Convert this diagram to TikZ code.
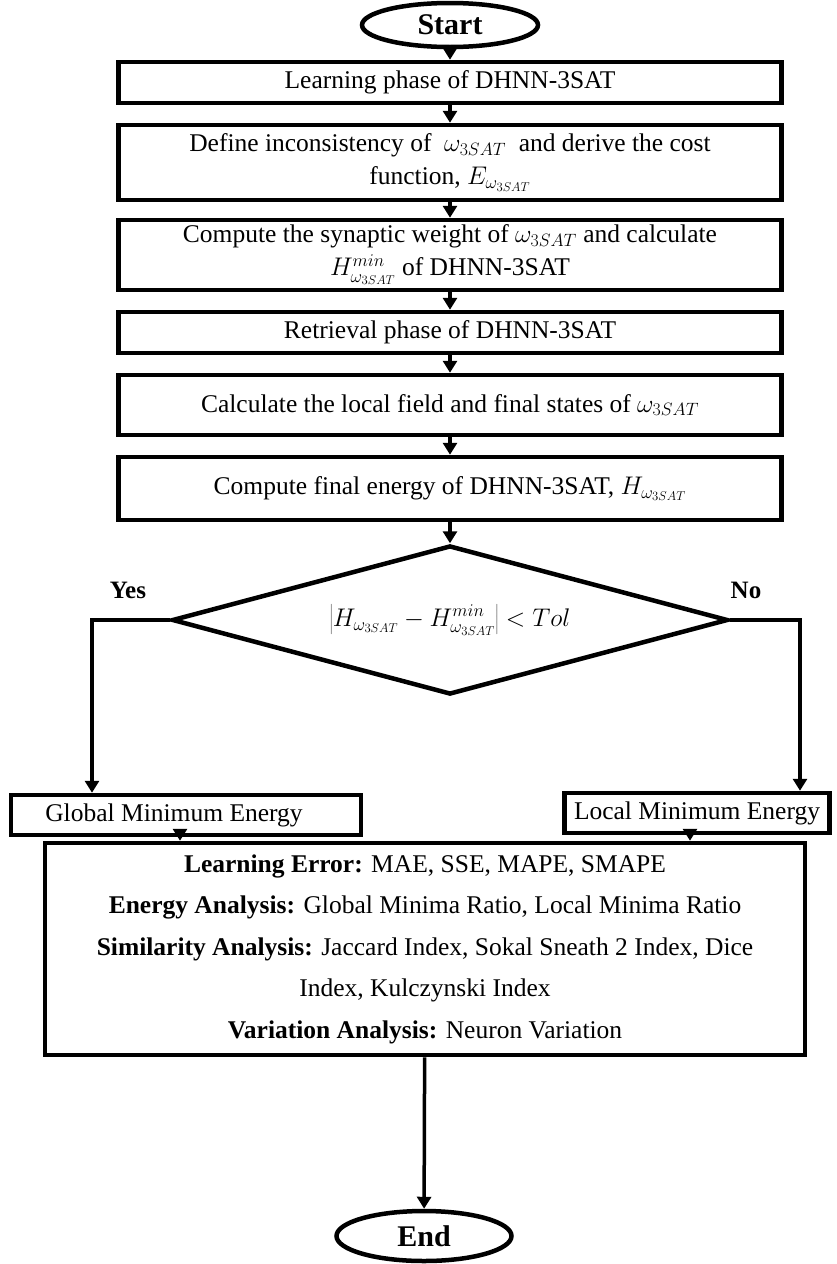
\RequirePackage{fix-cm}
\documentclass[tikz,border=0pt]{standalone}
\usepackage{fontspec}
\setmainfont{Liberation Serif}
\usetikzlibrary{shapes.geometric,arrows.meta,calc}
\begin{document}
\begin{tikzpicture}[x=1pt,y=-1pt,
  box/.style={draw,line width=4.5pt,rectangle,inner sep=2pt,align=center,
    font=\fontsize{25.5}{33}\selectfont},
  term/.style={draw,line width=4.5pt,ellipse,inner sep=0pt,
    font=\fontsize{30}{33}\selectfont\bfseries},
  arr/.style={line width=3.5pt,-{Triangle[length=12pt,width=14pt]}},
  lab/.style={font=\fontsize{25}{30}\selectfont\bfseries}]
\useasboundingbox[fill=white] (0,0) rectangle (837,1264);

\node[term,minimum width=176pt,minimum height=44pt] (start) at (450,25) {Start};
\node[box,minimum width=663pt,minimum height=41pt] (b1) at (450,82.5) {Learning phase of DHNN-3SAT};
\node[box,minimum width=663pt,minimum height=75pt] (b2) at (450,162.5)
  {Define inconsistency of \ $\omega_{3SAT}$ \ and derive the cost\\ function, $E_{\omega_{3SAT}}$};
\node[box,minimum width=663pt,minimum height=70pt] (b3) at (450,255)
  {Compute the synaptic weight of $\omega_{3SAT}$ and calculate\\ $H^{min}_{\omega_{3SAT}}$ of DHNN-3SAT};
\node[box,minimum width=663pt,minimum height=41pt] (b4) at (450,332.5) {Retrieval phase of DHNN-3SAT};
\node[box,minimum width=663pt,minimum height=60pt] (b5) at (450,405)
  {Calculate the local field and final states of $\omega_{3SAT}$};
\node[box,minimum width=663pt,minimum height=63pt] (b6) at (450,488.5)
  {Compute final energy of DHNN-3SAT, $H_{\omega_{3SAT}}$};
\node[box,diamond,shape aspect=3.73,inner sep=0pt,minimum width=556pt,minimum height=149pt] (dia) at (450,620)
  {$\left|H_{\omega_{3SAT}} - H^{min}_{\omega_{3SAT}}\right| < Tol$};
\node[box,minimum width=350pt,minimum height=40pt] (glob) at (186,815) {Global Minimum Energy\hspace*{24pt}};
\node[box,minimum width=265pt,minimum height=40pt] (loc) at (697,813) {Local Minimum Energy};
\node[box,minimum width=760pt,minimum height=212pt,font=\fontsize{25.5}{41.5}\selectfont] (big) at (425,949)
  {\textbf{Learning Error:} MAE, SSE, MAPE, SMAPE\\
   \textbf{Energy Analysis:} Global Minima Ratio, Local Minima Ratio\\
   \textbf{Similarity Analysis:} Jaccard Index, Sokal Sneath 2 Index, Dice\\
   Index, Kulczynski Index\\
   \textbf{Variation Analysis:} Neuron Variation};
\node[term,minimum width=175pt,minimum height=50pt] (end) at (424,1236) {End};

\node[lab] (yes) at (128,590) {Yes};
\node[lab] (no) at (746,590) {No};

\draw[arr] (start) -- (b1);
\draw[arr] (b1) -- (b2);
\draw[arr] (b2) -- (b3);
\draw[arr] (b3) -- (b4);
\draw[arr] (b4) -- (b5);
\draw[arr] (b5) -- (b6);
\draw[arr] (b6) -- (dia);
\coordinate (yc) at (92,620);
\coordinate (nc) at (800,620);
\draw[arr] (dia.west) -- (yc) -- (yc |- glob.north);
\draw[arr] (dia.east) -- (nc) -- (nc |- loc.north);
\draw[arr] ([xshift=-6pt]glob.south) -- ([xshift=-6pt]glob.south |- big.north);
\draw[arr] ([xshift=-7pt]loc.south) -- ([xshift=-7pt]loc.south |- big.north);
\draw[arr] (big) -- (end);
\end{tikzpicture}
\end{document}
